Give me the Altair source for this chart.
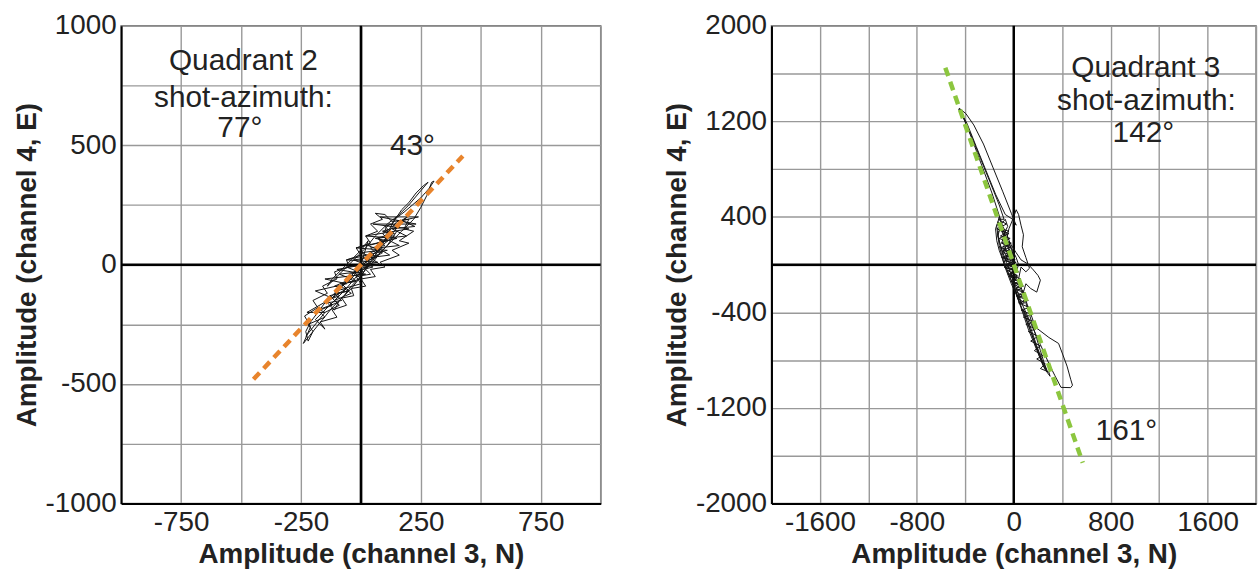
import altair as alt
import pandas as pd

FONT = "Liberation Sans"
TXT = "#222222"

# ---------------- data ----------------
# Left panel: Quadrant 2 particle-motion trace (channel 3 N, channel 4 E)
left_trace_x = [
    -230, -150, -225, -120, -190, -60, -150, 20, -100, 70, -60, 110, -20, 150, 20, 200, 50, 230, 80, 240, 150,
    100, 140, 60, 90, 20, 50, -30, 0, -80, -50, -130, -100, -180, -150, -220, -200, -240,
    -210, -235, -180, -200, -140, -160, -100, -110, -50, -60, 0, -20, 40, 20, 70, 40, 90, 60, 100,
    130, 200, 180, 220, 160, 200, 130, 160, 80, 100, 40, 60, 0, 20, -40, -30, -80, -60, -120, -100, -170, -150,
    -190, -130, -70, -10, 50, 110, 170, 220, 250, 275, 295, 305, 285, 250, 215, 180, 140,
    120, 90, 110, 70, 90, 40, 60, 10, 30, -20, 0, -50, -30, -80, -60, -110, -90, -140, -120, -170,
    -150, -90, -110, -40, -70, 0, -20, 40, 10, 80, 40, 120, 70, 160, 100, 190, 130, 225, 170, 200,
    160, 140, 100, 70, 30, -10, -40, -80, -110, -150, -180, -210, -230, -220,
    -200, -160, -120, -80, -40, 0, 30, 60, 90, 75, 95, 120, 100, 130, 150, 170, 200, 230, 260, 280,
    250, 200, 160, 110, 60, 20, -20, -60, -100, -140, -120, -80, -40, 0, 30, 0,
    -120, -60, -110, -40, -90, -10, -60, 20, -30, 50, 0, 80, 30, 110, 60, 140, 90, 160, 120,
    100, 130, 70, 100, 40, 70, 10, 40, -20, 10, -50, -20, -80, -50, -110, -80, -140, -110,
    -90, -70, -40, -10, 20, 50, 80, 110, 130, 150]
left_trace_y = [
    -300, -200, -200, -140, -110, -80, -60, -40, -20, 10, 20, 60, 70, 110, 120, 150, 170, 170, 200, 200, 180,
    120, 120, 60, 50, 10, -10, -30, -60, -80, -110, -130, -160, -190, -220, -250, -280, -330,
    -260, -215, -180, -150, -120, -90, -60, -30, -10, 20, 40, 70, 90, 120, 140, 170, 190, 215, 210,
    180, 190, 150, 140, 100, 90, 60, 40, 10, -10, -20, -50, -60, -90, -100, -130, -140, -170, -190, -220, -240, -270,
    -230, -170, -110, -40, 20, 80, 140, 190, 240, 290, 345, 350, 320, 280, 250, 220, 190,
    150, 130, 110, 90, 70, 50, 30, 10, -10, -20, -40, -50, -70, -80, -100, -110, -130, -150, -170, -190,
    -200, -170, -150, -120, -100, -80, -50, -40, -10, 0, 30, 40, 70, 80, 110, 120, 150, 160, 185, 205,
    170, 140, 100, 60, 20, -20, -60, -90, -120, -160, -200, -240, -280, -320,
    -280, -230, -180, -140, -100, -50, 0, 40, 90, 110, 95, 140, 160, 170, 200, 230, 260, 300, 330, 345,
    310, 250, 210, 170, 120, 70, 30, -10, -50, -90, -60, -20, 20, 60, 100, 0,
    -140, -100, -90, -60, -40, -30, -10, 0, 20, 30, 50, 60, 80, 100, 110, 130, 140, 160, 170,
    150, 120, 110, 80, 70, 40, 30, 0, -10, -30, -40, -70, -80, -110, -120, -150, -160, -190,
    -150, -130, -90, -60, -20, 10, 50, 80, 110, 140]

# Right panel: Quadrant 3 particle-motion trace
right_trace_x = [
    0, -20, -60, -110, -180, -260, -340, -410, -455, -440, -385, -310, -230, -150, -70, -10, 20, -20, -90, -170,
    -250, -330, -395, -450, -425, -355, -275, -195, -120, -80,
    -130, -60, -140, -40, -120, -20, -110, 0, -100, 20, -80, 40, -50, 60, -20, 80, 0, 100, 20, 120, 40, 130, 60, 150,
    80, 170, 100, 180, 120, 200, 140, 220, 170, 240, 190, 260, 220, 290, 300,
    260, 230, 200, 170, 140, 110, 80, 50, 20, -10, -40, -70, -90, -110, -130, -140, -120, -100,
    -60, -30, 20, 60, 110, 150, 200, 220, 190, 140, 100, 80, 110, 150, 180, 200, 290, 370, 400, 440, 470, 485, 470,
    390, 340, 300, 260, 220, 180, 140, 100, 60, 30, 0, -30, -60, -90, -115, -135, -110,
    -80, -100, -60, -90, -40, -70, -20, -60, 0, -30, 30, 0, 60, 20, 80, 40, 100, 60, 30, 0, -30, -60, -90, -120, -140,
    -150, -130, -90, -50, -10, 20, 40, 20, -10, -40, -70, -40, -10, 10, -20, -50, -80,
    -40, 0, 20, 40, 60, 80, 70, 100, 130, 100, 60,
    40, 70, 100, 130, 160, 190, 220, 250, 280, 250, 210, 175, 140, 110, 80, 110, 150, 190, 230, 270, 240, 200, 160,
    120, 90, 60, 30, 0, -20, 0,
    -100, -40, -110, -30, -100, -20, -90, 0, -80, 10, -70, 20, -50, 30, -30, 40, 0, 60, 10, 70, 30, 90, 50, 20, -20,
    -50, -80, -100, -120, -130, -110, -70, -50, -80, -60, -90, -50, -70, -30, -50, 0, -20, 20, 0, 40]
right_trace_y = [
    0, 80, 200, 380, 600, 820, 1040, 1220, 1300, 1285, 1180, 990, 790, 590, 420, 380, 330, 430, 610, 810,
    1010, 1170, 1265, 1310, 1250, 1090, 890, 690, 500, 380,
    380, 340, 300, 260, 220, 180, 140, 100, 60, 20, -20, -60, -80, -120, -140, -180, -200, -240, -260, -300, -320,
    -360, -380, -420, -440, -480, -500, -540, -560, -600, -640, -680, -720, -760, -790, -830, -870, -900, -935,
    -880, -800, -720, -640, -560, -480, -400, -320, -240, -160, -80, 0, 80, 160, 240, 320, 400, 340,
    260, 180, 100, 40, 10, -30, -90, -130, -230, -200, -160, -230, -330, -440, -530, -540, -610, -660, -740, -850,
    -960, -1010, -1030, -1028, -930, -850, -760, -670, -580, -490, -400, -310, -220, -140, -60, 20, 100, 180, 260,
    300, 240, 180, 160, 100, 90, 30, 20, -30, -40, -90, -100, -150, -160, -200, -220, -260, -280, -320, -250, -180,
    -110, -40, 40, 120, 200, 300, 360, 300, 200, 120, 60, 0, -60, 0, 60, 140, 180, 100, 40, -20, 40, 110,
    300, 400, 460, 420, 330, 250, 150, 60, -30, -60, -20,
    -120, -220, -320, -420, -520, -620, -720, -820, -900, -860, -760, -660, -560, -470, -380, -440, -560, -680, -790,
    -880, -840, -740, -640, -540, -450, -360, -270, -170, -80, 0,
    300, 280, 240, 220, 180, 150, 120, 90, 60, 30, 0, -30, -50, -90, -100, -140, -160, -200, -220, -260, -280, -320,
    -330, -250, -160, -80, 0, 80, 160, 240, 330, 380, 320, 260, 200, 140, 100, 40, 20, -20, -40, -90, -110, -150,
    -170]

# Dashed principal-direction lines
left_fit_x = [-448, 425]
left_fit_y = [-480, 455]
right_fit_x = [-565, 570]
right_fit_y = [1650, -1660]

# Tick values / labels
left_grid = list(range(-1000, 1001, 250))
left_x_labels = [-750, -250, 250, 750]
left_y_labels = [-1000, -500, 0, 500, 1000]
right_grid = list(range(-2000, 2001, 400))
right_x_labels = [-1600, -800, 0, 800, 1600]
right_y_labels = [-2000, -1200, -400, 400, 1200, 2000]

# Annotations
left_text = ["Quadrant 2", "shot-azimuth:", "77°", "43°"]
left_text_x = [-490, -490, -505, 215]
left_text_y = [852, 699, 570, 497]
right_text = ["Quadrant 3", "shot-azimuth:", "142°", "161°"]
right_text_x = [1090, 1095, 1070, 930]
right_text_y = [1650, 1367, 1100, -1392]


def make_axis(values, labels, title):
    lst = "[" + ",".join(str(v) for v in labels) + "]"
    return alt.Axis(
        values=values,
        labelExpr=f"indexof({lst}, datum.value) >= 0 ? '' + datum.value : ''",
        title=title,
        grid=True,
        gridColor="#999999",
        gridWidth=1.4,
        domain=True,
        domainColor="#000000",
        domainWidth=2,
        ticks=False,
        tickSize=0,
        labelFont=FONT,
        labelFontSize=28,
        labelColor=TXT,
        labelPadding=5,
        labelFlush=False,
        labelOverlap=False,
        titleFont=FONT,
        titleFontSize=28,
        titleFontWeight="bold",
        titleColor=TXT,
        titlePadding=4,
    )


def panel(tx, ty, fx, fy, fit_color, dom, grid, xl, yl, texts, txs, tys, width, height):
    xenc = alt.X("x:Q", scale=alt.Scale(domain=dom, nice=False, zero=False),
                 axis=make_axis(grid, xl, "Amplitude (channel 3, N)"))
    yenc = alt.Y("y:Q", scale=alt.Scale(domain=dom, nice=False, zero=False),
                 axis=make_axis(grid, yl, "Amplitude (channel 4, E)"))

    trace_df = pd.DataFrame({"x": tx, "y": ty, "i": list(range(len(tx)))})
    fit_df = pd.DataFrame({"x": fx, "y": fy})
    text_df = pd.DataFrame({"x": txs, "y": tys, "t": texts})

    vzero = alt.Chart(pd.DataFrame({"x": [0]})).mark_rule(color="#000000", strokeWidth=2.5).encode(x=xenc)
    hzero = alt.Chart(pd.DataFrame({"y": [0]})).mark_rule(color="#000000", strokeWidth=2.5).encode(y=yenc)
    trace = alt.Chart(trace_df).mark_line(color="#141414", strokeWidth=1.0, clip=True).encode(
        x=xenc, y=yenc, order="i:Q")
    fit = alt.Chart(fit_df).mark_line(color=fit_color, strokeWidth=4.5, strokeDash=[9, 6],
                                      strokeCap="butt").encode(x=xenc, y=yenc)
    txt = alt.Chart(text_df).mark_text(font=FONT, fontSize=30, color=TXT, align="center",
                                       baseline="middle").encode(x=xenc, y=yenc, text="t:N")
    return alt.layer(vzero, hzero, trace, fit, txt).properties(width=width, height=height)


left = panel(left_trace_x, left_trace_y, left_fit_x, left_fit_y, "#E8842C", [-1000, 1000],
             left_grid, left_x_labels, left_y_labels, left_text, left_text_x, left_text_y, 483, 481)
right = panel(right_trace_x, right_trace_y, right_fit_x, right_fit_y, "#8CC63F", [-2000, 2000],
              right_grid, right_x_labels, right_y_labels, right_text, right_text_x, right_text_y, 488, 481)

chart = alt.hconcat(left, right, spacing=60).properties(
    padding={"left": 12, "top": 9, "right": 0, "bottom": 0},
    background="white",
).configure_view(stroke="#808080", strokeWidth=1.5)

chart.save("out.html", embed_options={"renderer": "svg", "actions": False})
